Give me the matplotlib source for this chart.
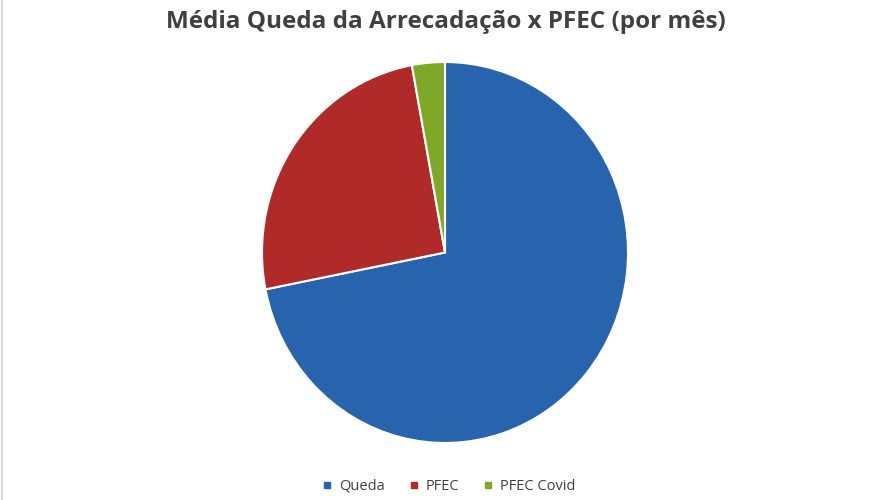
import matplotlib
matplotlib.use('Agg')
import matplotlib.pyplot as plt
from matplotlib.lines import Line2D

# data (share of average monthly drop)
labels = ['Queda', 'PFEC', 'PFEC Covid']
values = [71.9, 25.2, 2.9]
colors = ['#2864AE', '#B02A2A', '#80A828']

fig = plt.figure(figsize=(8.88, 5), dpi=100)
fig.patch.set_facecolor('white')

# pie spans roughly x 262-628 px, y 62-443 px (slightly squeezed sideways)
ax = fig.add_axes([262 / 888, 57 / 500, 366 / 888, 381 / 500])
wedges, _ = ax.pie(values, colors=colors, startangle=90, counterclock=False,
                   radius=1.0,
                   wedgeprops={'edgecolor': 'white', 'linewidth': 1.5})
ax.set_xlim(-1, 1)
ax.set_ylim(-1, 1)
ax.set_aspect('auto')
ax.axis('off')

fig.text(0.502, 0.955, 'Média Queda da Arrecadação x PFEC (por mês)',
         ha='center', va='center', fontsize=17.5, fontweight='bold',
         color='#404040', family=['Open Sans', 'DejaVu Sans'])

handles = [Line2D([0], [0], marker='s', linestyle='none', markersize=5,
                  markerfacecolor=c, markeredgecolor=c) for c in colors]
fig.legend(handles, labels, loc='center', bbox_to_anchor=(0.505, 0.027),
           ncol=3, frameon=False, handlelength=0.8, handletextpad=0.4,
           columnspacing=1.6, labelcolor='#404040',
           prop={'family': ['Open Sans', 'DejaVu Sans'], 'size': 10.5})

# faint frame line on the left edge
fig.add_artist(Line2D([0.002, 0.002], [0, 1], color='#d9d9d9', linewidth=1.5,
                      transform=fig.transFigure))

fig.savefig('out.png', dpi=100, facecolor='white')
